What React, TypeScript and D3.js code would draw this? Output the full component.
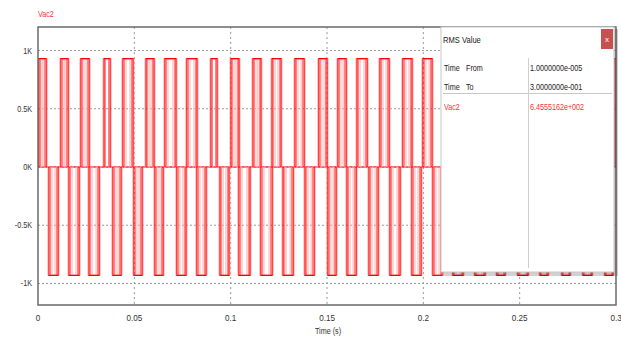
import React from 'react';
import * as d3 from 'd3';

// ---- data ----
const xTicks = [0, 0.05, 0.1, 0.15, 0.2, 0.25, 0.3];
const xTickLabels = ['0', '0.05', '0.1', '0.15', '0.2', '0.25', '0.3'];
const yTicks = [1000, 500, 0, -500, -1000];
const yTickLabels = ['1K', '0.5K', '0K', '-0.5K', '-1K'];
const pulseLevel = 930; // V
// positive pulses [start, end] in seconds
const positivePulses: [number, number][] = [
  [0.0005, 0.0042], [0.0119, 0.0156], [0.0223, 0.0265], [0.0343, 0.0374], [0.0441, 0.0493],
  [0.0561, 0.0602], [0.0659, 0.0716], [0.0773, 0.0825], [0.0898, 0.0929], [0.1002, 0.1043],
  [0.1116, 0.1157], [0.1215, 0.1261], [0.1334, 0.1381], [0.1458, 0.1500], [0.1557, 0.1599],
  [0.1656, 0.1708], [0.1775, 0.1822], [0.1894, 0.1941], [0.1998, 0.2045], [0.2102, 0.2144],
  [0.2216, 0.2258], [0.2330, 0.2372], [0.2439, 0.2481], [0.2554, 0.2595], [0.2663, 0.2704],
  [0.2772, 0.2818], [0.2886, 0.2933], [0.2990, 0.3000],
];
// negative pulses [start, end] in seconds
const negativePulses: [number, number][] = [
  [0.0057, 0.0104], [0.0161, 0.0213], [0.0265, 0.0317], [0.0389, 0.0431], [0.0498, 0.0540],
  [0.0607, 0.0649], [0.0721, 0.0768], [0.0825, 0.0872], [0.0945, 0.0991], [0.1043, 0.1100],
  [0.1157, 0.1215], [0.1272, 0.1324], [0.1386, 0.1433], [0.1505, 0.1547], [0.1604, 0.1651],
  [0.1718, 0.1765], [0.1827, 0.1879], [0.1941, 0.1988], [0.2050, 0.2097], [0.2154, 0.2206],
  [0.2268, 0.2320], [0.2382, 0.2424], [0.2491, 0.2543], [0.2606, 0.2647], [0.2720, 0.2761],
  [0.2829, 0.2875], [0.2943, 0.2984],
];
const seriesName = 'Vac2';
const rmsLabels = [['Time', 'From'], ['Time', 'To']];
const rmsValues = ['1.0000000e-005', '3.0000000e-001'];
const rmsResult = '6.4555162e+002';

const W = 621, H = 338;
const left = 38, right = 616, top = 27, bottom = 305;
const FONT = '"Liberation Sans", Arial, sans-serif';

type TP = { x: number; y: number; size?: number; fill?: string; anchor?: string; sx?: number; children: React.ReactNode };
function Txt({ x, y, size = 9, fill = '#222', anchor = 'start', sx = 0.8, children }: TP) {
  return (
    <text transform={`translate(${x},${y}) scale(${sx},1)`} fontSize={size} fill={fill} textAnchor={anchor}>
      {children}
    </text>
  );
}

export default function App() {
  const x = d3.scaleLinear().domain([0, 0.3]).range([left, right]);
  const y = d3.scaleLinear().domain([-1185, 1202]).range([bottom, top]);
  const y0 = y(0);

  const line = d3.line<[number, number]>().x(d => d[0]).y(d => d[1]);
  const pulsePath = (p: [number, number], sign: number, inset: number) => {
    const x0 = x(p[0]) + inset, x1 = x(p[1]) - inset;
    if (x1 - x0 < 1) return '';
    const yl = y(sign * pulseLevel);
    return line([[x0, y0], [x0, yl], [x1, yl], [x1, y0]]) || '';
  };

  const pulses: { p: [number, number]; s: number }[] = [
    ...positivePulses.map(p => ({ p, s: 1 })),
    ...negativePulses.map(p => ({ p, s: -1 })),
  ];

  const bx = 441, by = 27, bw = 173, bh = 245;

  return (
    <svg width={W} height={H} style={{ position: 'absolute', left: 0, top: 0, background: '#fff' }} fontFamily={FONT}>
      <defs>
        <clipPath id="plot">
          <rect x={left} y={top} width={right - left} height={bottom - top} />
        </clipPath>
      </defs>
      <Txt x={38} y={17} fill="#ff3030">{seriesName}</Txt>
      {/* grid */}
      {yTicks.map(t => (
        <line key={'gy' + t} x1={left} x2={right} y1={y(t)} y2={y(t)} stroke="#9a9a9a" strokeDasharray="2,2" />
      ))}
      {xTicks.slice(1, -1).map(t => (
        <line key={'gx' + t} x1={x(t)} x2={x(t)} y1={top} y2={bottom} stroke="#9a9a9a" strokeDasharray="2,3" />
      ))}
      {/* waveform */}
      <g clipPath="url(#plot)" fill="none">
        <line x1={left} x2={right} y1={y0} y2={y0} stroke="#ff0000" strokeWidth={1.2} />
        {pulses.map((d, i) => (
          <g key={i}>
            <path d={pulsePath(d.p, d.s, -1)} stroke="#ffa0a0" strokeWidth={1} />
            <path d={pulsePath(d.p, d.s, 1.5)} stroke="#ff8080" strokeWidth={1} />
            <path d={pulsePath(d.p, d.s, 3)} stroke="#ffb0b0" strokeWidth={1} />
            <path d={pulsePath(d.p, d.s, 0)} stroke="#ff0000" strokeWidth={1.2} />
          </g>
        ))}
      </g>
      {/* frame */}
      <rect x={left} y={top} width={right - left} height={bottom - top} fill="none" stroke="#6a6a6a" strokeWidth={1.5} />
      {/* tick labels */}
      {yTicks.map((t, i) => (
        <Txt key={'yl' + t} x={32} y={y(t) + 3} anchor="end" fill="#333">{yTickLabels[i]}</Txt>
      ))}
      {xTicks.map((t, i) => (
        <Txt key={'xl' + t} x={x(t)} y={321} anchor="middle" fill="#333" sx={0.9}>{xTickLabels[i]}</Txt>
      ))}
      <Txt x={328} y={334} anchor="middle" fill="#333">Time (s)</Txt>
      {/* RMS box */}
      <rect x={bx + 2} y={by + 2} width={bw + 2} height={bh + 2} fill="rgba(0,0,0,0.18)" />
      <rect x={bx} y={by} width={bw} height={bh} fill="#fff" stroke="#c8c8c8" />
      <Txt x={443} y={43} size={9.5}>RMS Value</Txt>
      <rect x={601} y={29} width={12} height={20} fill="#c75050" />
      <Txt x={607} y={42} size={8} anchor="middle" fill="#fff" sx={1}>x</Txt>
      {rmsLabels.map((r, i) => (
        <g key={'r' + i}>
          <Txt x={444} y={71 + i * 19}>{r[0]}</Txt>
          <Txt x={466} y={71 + i * 19}>{r[1]}</Txt>
          <Txt x={530} y={71 + i * 19}>{rmsValues[i]}</Txt>
        </g>
      ))}
      <line x1={443} x2={612} y1={93.5} y2={93.5} stroke="#c8c8c8" />
      <line x1={528.5} x2={528.5} y1={58} y2={268} stroke="#cfcfcf" />
      <Txt x={444} y={110} fill="#ff3030">{seriesName}</Txt>
      <Txt x={530} y={110} fill="#ff3030">{rmsResult}</Txt>
    </svg>
  );
}
